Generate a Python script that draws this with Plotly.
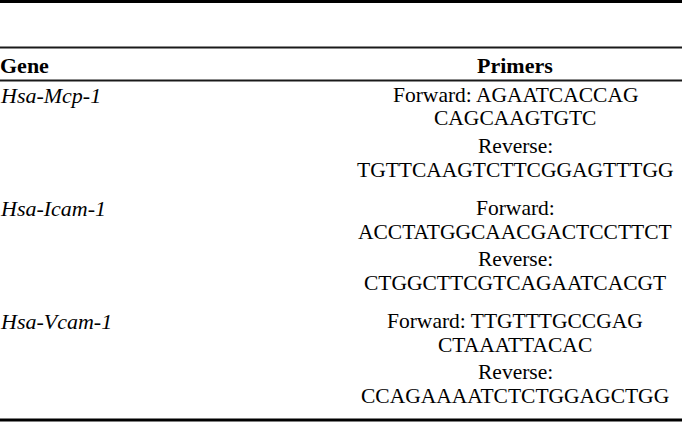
import plotly.graph_objects as go

# ---- table content ----
header_gene = "Gene"
header_primers = "Primers"
genes = ["Hsa-Mcp-1", "Hsa-Icam-1", "Hsa-Vcam-1"]
forward_seqs = ["AGAATCACCAG CAGCAAGTGTC", "ACCTATGGCAACGACTCCTTCT", "TTGTTTGCCGAG CTAAATTACAC"]
reverse_seqs = ["TGTTCAAGTCTTCGGAGTTTGG", "CTGGCTTCGTCAGAATCACGT", "CCAGAAAATCTCTGGAGCTGG"]

W, H = 682, 422
FONT = "Liberation Serif, Times New Roman, serif"
FS = 21.5
LINE_H = 23.5  # distance between wrapped lines inside a cell

def px(x):
    return x / W

def py(y):
    return 1 - y / H

def wrap(label, seq):
    if " " in seq:
        a, b = seq.split(" ", 1)
        return [f"{label}: {a}", b]
    return [f"{label}:", seq]

annotations = []
shapes = []

def text(x, y, s, anchor="left", bold=False, italic=False, size=FS):
    if bold:
        s = f"<b>{s}</b>"
    if italic:
        s = f"<i>{s}</i>"
    annotations.append(dict(
        x=px(x), y=py(y), xref="paper", yref="paper", text=s, showarrow=False,
        xanchor=anchor, yanchor="middle", font=dict(family=FONT, size=size, color="#000"),
    ))

def cell(x, y_first, lines):
    for k, ln in enumerate(lines):
        text(x, y_first + k * LINE_H, ln, anchor="center")

def hline(y, width, color="#000"):
    shapes.append(dict(type="line", xref="paper", yref="paper", x0=0, x1=1,
                       y0=py(y), y1=py(y), line=dict(color=color, width=width)))

# rules
hline(1.5, 3)
hline(47.5, 2, "#1a1a1a")
hline(80.5, 2, "#1a1a1a")
hline(420, 3)

# header
header_y = 66
prim_x = 515
text(-2, header_y, header_gene, bold=True, size=22)
text(prim_x, header_y, header_primers, anchor="center", bold=True, size=22)

# body
first_y = 95
entry_step = 51      # between Forward and Reverse within a gene
gene_step = 62       # from Reverse of one gene to Forward of the next
for i, g in enumerate(genes):
    y0 = first_y + i * (entry_step + gene_step)
    text(-2, y0, g, italic=True, size=22)
    entries = [wrap("Forward", forward_seqs[i]), wrap("Reverse", reverse_seqs[i])]
    for j, lines in enumerate(entries):
        cell(prim_x, y0 + j * entry_step, lines)

fig = go.Figure()
fig.update_layout(
    width=W, height=H, margin=dict(l=0, r=0, t=0, b=0),
    paper_bgcolor="white", plot_bgcolor="white",
    xaxis=dict(visible=False), yaxis=dict(visible=False),
    annotations=annotations, shapes=shapes, showlegend=False,
)
fig.write_html(
    "out.html",
    config={"displayModeBar": False},
    post_script="document.body.style.margin='0';document.body.style.overflow='hidden';",
)
